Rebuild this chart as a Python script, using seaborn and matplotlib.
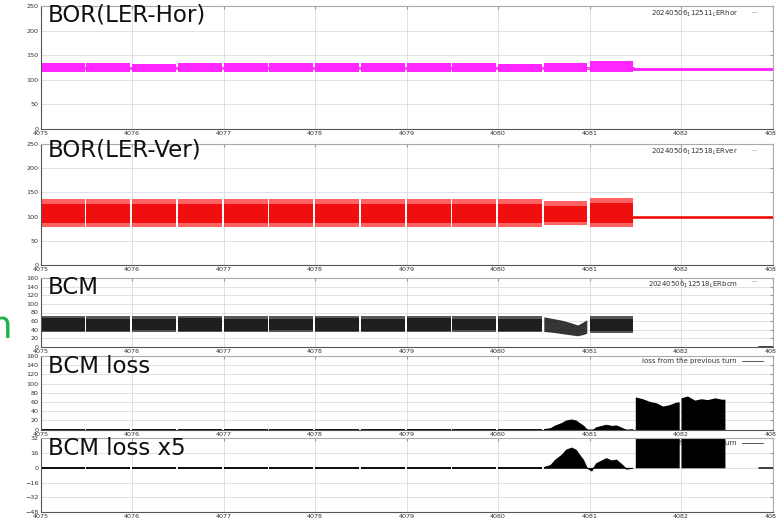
import matplotlib
matplotlib.use("Agg")
import matplotlib.pyplot as plt
import seaborn as sns

sns.set_style("whitegrid")
plt.rcParams['font.family'] = ['DejaVu Sans']

W, H = 776, 520

# bursts (turn ranges)
burst_start = [4075.00, 4075.50, 4076.00, 4076.50, 4077.00, 4077.50, 4078.00,
               4078.50, 4079.00, 4079.50, 4080.00, 4080.50, 4081.00]
burst_end = [4075.48, 4075.98, 4076.48, 4076.98, 4077.48, 4077.98, 4078.48,
             4078.98, 4079.48, 4079.98, 4080.48, 4080.97, 4081.47]
after_x = [4081.47, 4083.0]

# BOR horizontal
hor_low = [116, 116, 116, 116, 116, 116, 116, 116, 116, 116, 116, 116, 115]
hor_high = [134, 134, 133, 134, 134, 134, 134, 134, 134, 134, 133, 134, 138]
hor_after = [122, 122]

# BOR vertical
ver_low = [78, 78, 79, 78, 78, 79, 78, 78, 78, 79, 78, 82, 78]
ver_high = [136, 136, 137, 137, 136, 136, 137, 136, 137, 136, 136, 132, 139]
ver_core_low = [86, 86, 86, 86, 86, 86, 86, 86, 86, 86, 86, 88, 86]
ver_core_high = [126, 126, 127, 127, 126, 126, 127, 126, 127, 126, 126, 122, 128]
ver_after = [100, 100]

# BCM
bcm_low = [34, 34, 35, 34, 34, 35, 34, 34, 34, 35, 34, None, 33]
bcm_high = [73, 72, 72, 73, 72, 72, 73, 72, 73, 72, 72, None, 72]
bcm_dip_x = [4080.50, 4080.60, 4080.70, 4080.80, 4080.87, 4080.93, 4080.97]
bcm_dip_low = [36, 34, 31, 28, 26, 29, 32]
bcm_dip_high = [70, 66, 62, 56, 51, 58, 63]
bcm_tail_x = [4082.85, 4083.0]
bcm_tail_y = [0.5, 0.5]

# BCM loss
base_low = -1.3
base_high = 1.3
hump_x = [4080.50, 4080.57, 4080.62, 4080.69, 4080.74, 4080.80, 4080.85,
          4080.89, 4080.93, 4080.97, 4081.02, 4081.07, 4081.13, 4081.18,
          4081.24, 4081.29, 4081.35, 4081.40, 4081.47]
hump_y = [1, 3, 8.7, 14, 19.6, 22, 19.6, 14, 8.7, 0, -3, 5, 8, 10.5, 8, 9,
          4, -1, 0]
block1_x = [4081.50, 4081.58, 4081.66, 4081.73, 4081.80, 4081.87, 4081.95, 4081.98]
block1_y = [71, 67, 61, 58, 51, 54, 60, 60]
block2_x = [4082.00, 4082.07, 4082.15, 4082.22, 4082.29, 4082.37, 4082.44, 4082.48]
block2_y = [69, 73, 64, 67, 65, 69, 66, 66]

titles = ['BOR(LER-Hor)', 'BOR(LER-Ver)', 'BCM', 'BCM loss', 'BCM loss x5']
file_labels = ['20240506$_1$12511$_L$ERhor', '20240506$_1$12518$_L$ERver',
               '20240506$_1$12518$_L$ERbcm']
ylims = [(0, 250), (0, 250), (0, 160), (0, 160), (-48, 32)]
yticks = [range(0, 251, 50), range(0, 251, 50), range(0, 161, 20),
          range(0, 161, 20), range(-48, 33, 16)]
# panel boxes in pixels: top, bottom
boxes = [(6, 129), (144, 265), (278, 347), (356, 429.5), (438.3, 512)]
title_base = [21, 156.7, 294, 372.7, 455]
left_px, right_px = 40.7, 772.5

fig = plt.figure(figsize=(W / 100, H / 100), dpi=100)
axes = []
for i, (t, b) in enumerate(boxes):
    ax = fig.add_axes([left_px / W, 1 - b / H, (right_px - left_px) / W, (b - t) / H])
    ax.set_xlim(4075, 4083)
    ax.set_ylim(*ylims[i])
    ax.set_xticks(range(4075, 4084))
    ax.set_yticks(list(yticks[i]))
    ax.grid(True, color='#dcdcdc', linewidth=0.6)
    ax.tick_params(axis='both', labelsize=4.6, pad=1.5, length=2, direction='in',
                   color='#999999', labelcolor='#333333', top=True, right=True)
    for s in ax.spines.values():
        s.set_color('#aaaaaa'); s.set_linewidth(0.8)
    ax.spines['left'].set_color('#555555')
    ax.spines['bottom'].set_color('#555555')
    ax.set_facecolor('white')
    fig.text(48 / W, 1 - title_base[i] / H, titles[i], fontsize=16.5, color='#111111',
             va='baseline', ha='left')
    axes.append(ax)

ax1, ax2, ax3, ax4, ax5 = axes

# panel 1: BOR hor
for s, e, lo, hi in zip(burst_start, burst_end, hor_low, hor_high):
    ax1.fill_between([s, e], lo, hi, color='#ff1aff', linewidth=0, alpha=0.95)
    ax1.fill_between([e, e + 0.03], 119, 127, color='#ff1aff', linewidth=0, alpha=0.8)
sns.lineplot(x=after_x, y=hor_after, ax=ax1, color='#ff1aff', linewidth=2)

# panel 2: BOR ver
for s, e, lo, hi, clo, chi in zip(burst_start, burst_end, ver_low, ver_high,
                                  ver_core_low, ver_core_high):
    ax2.fill_between([s, e], lo, hi, color='#ff2020', linewidth=0, alpha=0.7)
    ax2.fill_between([s, e], clo, chi, color='#ee0000', linewidth=0, alpha=0.85)
sns.lineplot(x=after_x, y=ver_after, ax=ax2, color='#ee0000', linewidth=1.8)

# panel 3: BCM
for s, e, lo, hi in zip(burst_start, burst_end, bcm_low, bcm_high):
    if lo is None:
        continue
    ax3.fill_between([s, e], lo, hi, color='#111111', linewidth=0, alpha=0.7)
    ax3.fill_between([s, e], lo + 4, hi - 6, color='#111111', linewidth=0, alpha=0.8)
ax3.fill_between(bcm_dip_x, bcm_dip_low, bcm_dip_high, color='#111111', linewidth=0, alpha=0.85)
sns.lineplot(x=bcm_tail_x, y=bcm_tail_y, ax=ax3, color='#222222', linewidth=1.2)

# panels 4 and 5: BCM loss (same data, different y range)
for ax in (ax4, ax5):
    for s, e in zip(burst_start[:11], burst_end[:11]):
        ax.fill_between([s, e], base_low, base_high, color='#111111', linewidth=0, zorder=2)
    ax.fill_between(hump_x, 0, hump_y, color='#000000', linewidth=0.6,
                    edgecolor='#000000', zorder=2)
    ax.fill_between(block1_x, 0, block1_y, color='#000000', linewidth=0, zorder=2)
    ax.fill_between(block2_x, 0, block2_y, color='#000000', linewidth=0, zorder=2)
    ax.text(0.951, 0.93, 'loss from the previous turn', transform=ax.transAxes,
            fontsize=5, color='#333333', ha='right', va='center', zorder=1)
    ax.plot([0.958, 0.987], [0.93, 0.93], transform=ax.transAxes, color='#555555',
            linewidth=0.7, zorder=1)
sns.lineplot(x=bcm_tail_x, y=[0, 0], ax=ax5, color='#222222', linewidth=1.2)

# file labels
for ax, lab in zip((ax1, ax2, ax3), file_labels):
    ax.text(0.953, 0.975, lab, transform=ax.transAxes, fontsize=5,
            color='#333333', ha='right', va='top')
    ax.plot([0.972, 0.978], [0.95, 0.95], transform=ax.transAxes,
            color='#bbbbbb', linewidth=0.6)

# cut-off slide text on the left edge
fig.text(-11 / W, 1 - 338 / H, 'n', fontsize=27, color='#22b04a', va='baseline')

fig.savefig('out.png', dpi=100, facecolor='white')
